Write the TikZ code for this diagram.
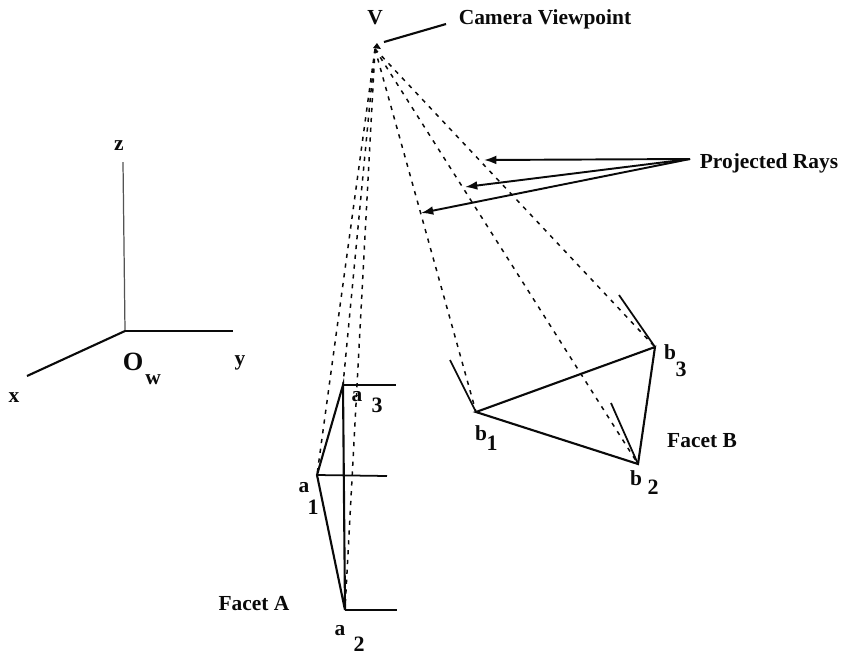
\documentclass[tikz,border=0pt]{standalone}
\usepackage{fontspec}
\setmainfont{Liberation Serif}
\usetikzlibrary{arrows.meta}
\definecolor{Ink}{HTML}{0A0A0A}
\tikzset{
    edge/.style={color=Ink, line width=1.2pt},
    tick/.style={color=Ink, line width=1pt},
    ray/.style={color=Ink, line width=0.85pt, dash pattern=on 2.4pt off 3.2pt},
    pointer/.style={-{Latex[length=7pt,width=5pt]}, color=Ink, line width=1.1pt},
    axisz/.style={color=Ink!70, line width=0.7pt},
    lab/.style={font=\bfseries\fontsize{12.2}{14}\selectfont, text=Ink, inner sep=0pt},
    idx/.style={font=\bfseries\fontsize{12.5}{15}\selectfont, text=Ink, inner sep=0pt},
}
\begin{document}
\begin{tikzpicture}[x=0.02cm, y=-0.02cm]
        \useasboundingbox (0,0) rectangle (843,657);

        % Points
        \coordinate (V) at (375,49);
        \coordinate (O) at (125,331);
        \coordinate (zend) at (123,162);
        \coordinate (yend) at (233,331);
        \coordinate (xend) at (27,376);
        \coordinate (a1) at (317,475);
        \coordinate (a2) at (345,610);
        \coordinate (a3) at (343,385);
        \coordinate (a1t) at (387,476);
        \coordinate (a2t) at (397,610);
        \coordinate (a3t) at (396,385);
        \coordinate (b1) at (476,412);
        \coordinate (b2) at (638,464);
        \coordinate (b3) at (655,347);
        \coordinate (b1t) at (450,360);
        \coordinate (b2t) at (611,403);
        \coordinate (b3t) at (619,295);
        \coordinate (camfrom) at (446,24);
        \coordinate (camto) at (384,42);
        \coordinate (raysfrom) at (690,159);
        \coordinate (r1) at (484,160);
        \coordinate (r2) at (465,187);
        \coordinate (r3) at (421,213);

        % World axes
        \draw[axisz] (O) -- (zend);
        \draw[edge] (O) -- (yend);
        \draw[edge] (O) -- (xend);
        \node[lab] (zlab) at (119,146) {z};
        \node[lab] (ylab) at (240,363) {y};
        \node[lab] (xlab) at (14,398) {x};
        \node[lab, font=\bfseries\fontsize{15}{17}\selectfont] (Olab) at (133,362) {O};
        \node[lab] (wlab) at (153,380) {w};

        % Rays
        \draw[ray] (V) -- (a1);
        \draw[ray] (V) -- (a2);
        \draw[ray] (V) -- (a3);
        \draw[ray] (V) -- (b1);
        \draw[ray] (V) -- (b2);
        \draw[ray] (V) -- (b3);

        % Facet A
        \draw[edge] (a1) -- (a3) -- (a2) -- cycle;
        \draw[tick] (a1) -- (a1t);
        \draw[tick] (a2) -- (a2t);
        \draw[tick] (a3) -- (a3t);
        \node[lab] (a1lab) at (304,488) {a};
        \node[idx] (a1idx) at (313,507) {1};
        \node[lab] (a2lab) at (340,631) {a};
        \node[idx] (a2idx) at (359,644) {2};
        \node[lab] (a3lab) at (357,397) {a};
        \node[idx] (a3idx) at (377,405) {3};
        \node[lab] (facetA) at (254,604) {Facet A};

        % Facet B
        \draw[edge] (b1) -- (b2) -- (b3) -- cycle;
        \draw[tick] (b1) -- (b1t);
        \draw[tick] (b2) -- (b2t);
        \draw[tick] (b3) -- (b3t);
        \node[lab] (b1lab) at (481,433) {b};
        \node[idx] (b1idx) at (492,443) {1};
        \node[lab] (b2lab) at (636,478) {b};
        \node[idx] (b2idx) at (653,487) {2};
        \node[lab] (b3lab) at (670,352) {b};
        \node[idx] (b3idx) at (681,369) {3};
        \node[lab] (facetB) at (702,441) {Facet B};

        % Viewpoint
        \fill[Ink] (373,48) -- (377,43) -- (381,49) -- cycle;
        \node[lab] (Vlab) at (375,18) {V};
        \node[lab] (camlab) at (545,19) {Camera Viewpoint};
        \draw[edge] (camfrom) -- (camto);

        % Projected rays
        \node[lab] (rayslab) at (769,163) {Projected Rays};
        \draw[pointer] (raysfrom) -- (r1);
        \draw[pointer] (raysfrom) -- (r2);
        \draw[pointer] (raysfrom) -- (r3);
    \end{tikzpicture}
\end{document}
